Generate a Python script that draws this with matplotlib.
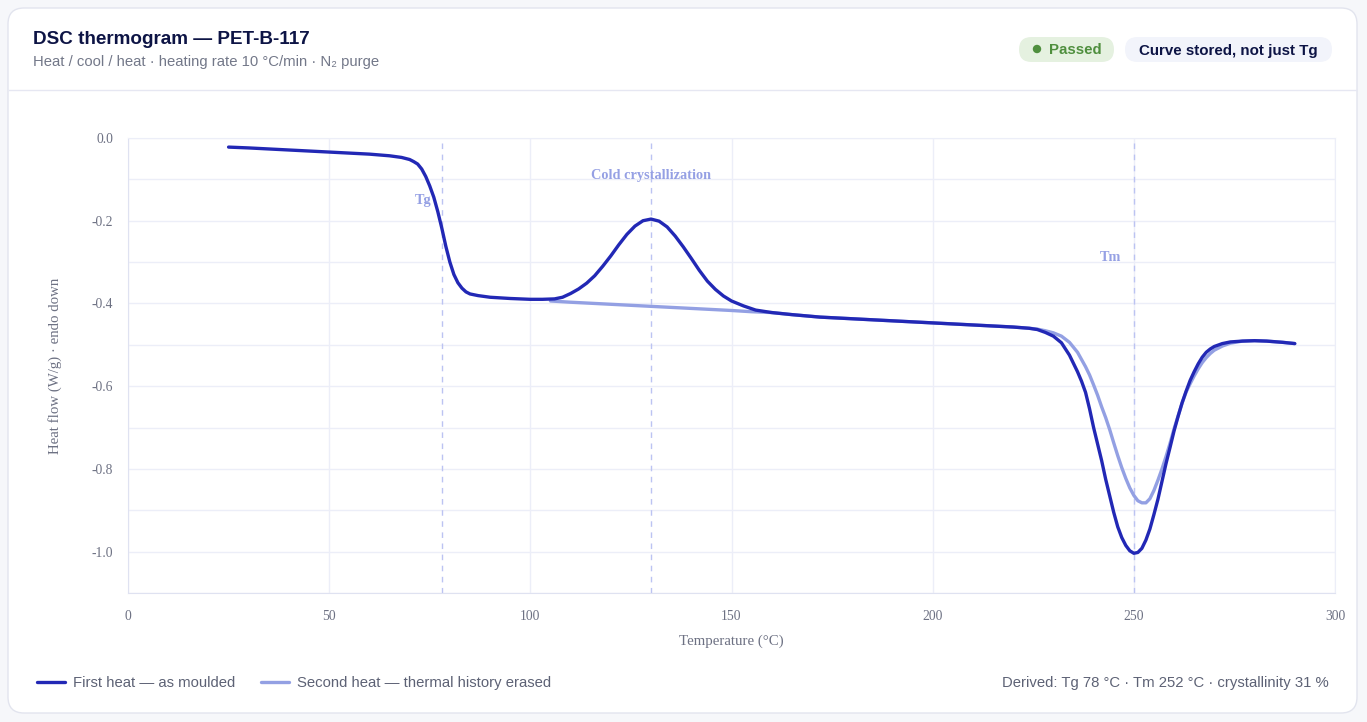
import matplotlib
matplotlib.use("Agg")
import matplotlib.pyplot as plt
from matplotlib.patches import FancyBboxPatch, Circle
from matplotlib.ticker import MultipleLocator

# first heat (as moulded)
first_T = [25, 30, 40, 50, 60, 65, 68, 70, 71, 72, 73, 74, 75, 76, 77, 78, 79, 80,
           81, 82, 83, 84, 85, 87, 90, 95, 100, 103, 106, 108, 110, 112, 114, 116,
           118, 120, 122, 124, 126, 128, 130, 132, 134, 136, 138, 140, 142, 144,
           146, 148, 150, 153, 156, 160, 165, 172, 180, 190, 200, 210, 220, 224,
           226, 228, 230, 232, 234, 236, 237, 238, 239, 240, 241, 242, 243, 244,
           245, 246, 247, 248, 249, 250, 251, 252, 253, 254, 255, 256, 257, 258,
           259, 260, 261, 262, 263, 264, 265, 266, 267, 268, 269, 270, 272, 274,
           277, 280, 283, 287, 290]
first_hf = [-0.022, -0.024, -0.029, -0.034, -0.039, -0.043, -0.047, -0.052, -0.057,
            -0.063, -0.075, -0.093, -0.116, -0.143, -0.178, -0.218, -0.262, -0.300,
            -0.330, -0.350, -0.363, -0.372, -0.377, -0.381, -0.385, -0.388, -0.390,
            -0.390, -0.389, -0.385, -0.376, -0.365, -0.351, -0.333, -0.310, -0.285,
            -0.258, -0.233, -0.213, -0.200, -0.196, -0.201, -0.215, -0.237, -0.263,
            -0.291, -0.320, -0.346, -0.366, -0.382, -0.394, -0.406, -0.416, -0.422,
            -0.427, -0.433, -0.437, -0.442, -0.447, -0.452, -0.457, -0.460,
            -0.463, -0.470, -0.479, -0.495, -0.525, -0.565, -0.588, -0.615, -0.655,
            -0.700, -0.740, -0.780, -0.825, -0.865, -0.905, -0.940, -0.966, -0.985,
            -0.998, -1.004, -1.002, -0.992, -0.972, -0.945, -0.910, -0.873, -0.830,
            -0.787, -0.748, -0.708, -0.673, -0.640, -0.612, -0.586, -0.565, -0.546,
            -0.530, -0.518, -0.510, -0.504, -0.497, -0.493, -0.491, -0.490, -0.491,
            -0.494, -0.497]

# second heat (thermal history erased)
second_T = [105, 110, 120, 130, 140, 150, 155, 160, 165, 172, 180, 190, 200, 210,
            220, 224, 226, 228, 230, 232, 234, 236, 238, 239, 240, 241, 242, 243,
            244, 245, 246, 247, 248, 249, 250, 251, 252, 253, 254, 255, 256, 257,
            258, 259, 260, 261, 262, 263, 264, 265, 266, 267, 268, 269, 270, 272,
            274, 277, 280, 283, 287, 290]
second_hf = [-0.394, -0.397, -0.402, -0.407, -0.412, -0.417, -0.420, -0.422, -0.427,
             -0.433, -0.437, -0.442, -0.447, -0.452, -0.457, -0.460, -0.462, -0.466,
             -0.471, -0.479, -0.494, -0.518, -0.553, -0.573, -0.597, -0.622, -0.650,
             -0.676, -0.705, -0.737, -0.768, -0.797, -0.823, -0.846, -0.864, -0.877,
             -0.882, -0.882, -0.872, -0.852, -0.827, -0.800, -0.770, -0.738, -0.703,
             -0.672, -0.641, -0.614, -0.594, -0.575, -0.558, -0.543, -0.531, -0.521,
             -0.513, -0.503, -0.496, -0.491, -0.490, -0.491, -0.494, -0.497]

markers_T = [78, 130, 250]
markers_lbl = ["Tg", "Cold crystallization", "Tm"]
markers_lbl_pos = [(73.3, -0.15), (130, -0.09), (244.3, -0.29)]

W, H = 1367, 722
plt.rcParams['axes.unicode_minus'] = False
fig = plt.figure(figsize=(W / 100, H / 100), dpi=100, facecolor="#f6f7fa")

def px(x, y):
    return x / 100, (H - y) / 100

# card
card = FancyBboxPatch(px(8, 713), 1349 / 100, 705 / 100,
                      boxstyle="round,pad=0,rounding_size=0.16",
                      transform=fig.dpi_scale_trans, facecolor="white",
                      edgecolor="#e2e4ee", linewidth=1, zorder=-5)
fig.patches.append(card)
fig.add_artist(plt.Line2D([9 / W, 1356 / W], [1 - 90 / H, 1 - 90 / H],
                          color="#e6e7f2", linewidth=1, zorder=-4))

fig.text(33 / W, 1 - 40 / H, "DSC thermogram — PET-B-117", fontsize=13.6,
         fontweight="bold", color="#0d1445", va="center", family="Liberation Sans")
fig.text(33 / W, 1 - 62 / H, "Heat / cool / heat · heating rate 10 °C/min · N₂ purge",
         fontsize=10.7, color="#737889", va="center", family="Liberation Sans")

# badges
def pill(x0, x1, y0, y1, fc):
    p = FancyBboxPatch(px(x0, y1), (x1 - x0) / 100, (y1 - y0) / 100,
                       boxstyle="round,pad=0,rounding_size=0.125",
                       transform=fig.dpi_scale_trans, facecolor=fc,
                       edgecolor="none", zorder=-3)
    fig.patches.append(p)

pill(1019, 1114, 37, 62, "#e5f1e0")
fig.patches.append(Circle(px(1037, 49), 0.035, transform=fig.dpi_scale_trans,
                          color="#4f8f3e", zorder=-2))
fig.text(1049 / W, 1 - 50.5 / H, "Passed", fontsize=10.8, fontweight="bold",
         color="#4f8f3e", va="center", family="Liberation Sans")
pill(1125, 1332, 37, 62, "#f2f4fb")
fig.text(1228 / W, 1 - 50.5 / H, "Curve stored, not just Tg", fontsize=10.9,
         fontweight="bold", color="#0d1445", va="center", ha="center",
         family="Liberation Sans")

# axes
ax = fig.add_axes([128 / W, 1 - 593 / H, (1335 - 128) / W, (593 - 138) / H], zorder=1)
ax.set_facecolor("white")
l2, = ax.plot(second_T, second_hf, color="#93a0e3", linewidth=2.4,
              solid_capstyle="round", solid_joinstyle="round", zorder=3)
l1, = ax.plot(first_T, first_hf, color="#2228b5", linewidth=2.4,
              solid_capstyle="round", solid_joinstyle="round", zorder=4)

for t, lbl, pos in zip(markers_T, markers_lbl, markers_lbl_pos):
    ax.axvline(t, color="#bcc3f2", linewidth=1, linestyle=(0, (4, 4)), zorder=2)
    ax.text(pos[0], pos[1], lbl, ha="center", va="center", fontsize=10.3,
            fontweight="bold", color="#95a0e4", family="Liberation Serif")

ax.set_xlim(0, 300)
ax.set_ylim(-1.1, 0.0)
ax.xaxis.set_major_locator(MultipleLocator(50))
ax.set_yticks([0.0, -0.2, -0.4, -0.6, -0.8, -1.0])
ax.set_yticklabels(["0.0", "-0.2", "-0.4", "-0.6", "-0.8", "-1.0"])
ax.yaxis.set_minor_locator(MultipleLocator(0.1))
ax.grid(True, which="both", color="#eceef8", linewidth=1)
ax.set_axisbelow(True)
ax.tick_params(which="both", length=0, labelsize=9.8, labelcolor="#6d7183")
ax.tick_params(axis="x", pad=12.5)
ax.tick_params(axis="y", pad=10.8)
for lab in ax.get_xticklabels() + ax.get_yticklabels():
    lab.set_family("Liberation Serif")
for s in ax.spines.values():
    s.set_color("#eceef8")
ax.spines["left"].set_color("#dfe2f1")
ax.spines["bottom"].set_color("#dfe2f1")

ax.set_xlabel("Temperature (°C)", fontsize=10.7, color="#6d7183", family="Liberation Serif")
ax.set_ylabel("Heat flow (W/g) · endo down", fontsize=10.7, color="#6d7183",
              family="Liberation Serif")
ax.xaxis.set_label_coords(0.5, -(641 - 593) / 455)
ax.yaxis.set_label_coords(-(128 - 55) / 1207, 0.5)
ax.xaxis.label.set_va("center")
ax.yaxis.label.set_va("center")

# legend + derived values
leg = fig.legend([l1, l2], ["First heat — as moulded", "Second heat — thermal history erased"],
                 loc="center left", bbox_to_anchor=(37 / W, 1 - 683 / H), ncol=2,
                 frameon=False, fontsize=10.7, handlelength=1.9, handletextpad=0.55,
                 columnspacing=1.7, borderpad=0, borderaxespad=0)
for t in leg.get_texts():
    t.set_color("#5d6275")
    t.set_family("Liberation Sans")
fig.text(1329 / W, 1 - 683 / H, "Derived: Tg 78 °C · Tm 252 °C · crystallinity 31 %",
         fontsize=10.7, color="#5d6275", ha="right", va="center", family="Liberation Sans")

fig.savefig("out.png", dpi=100, facecolor=fig.get_facecolor())
